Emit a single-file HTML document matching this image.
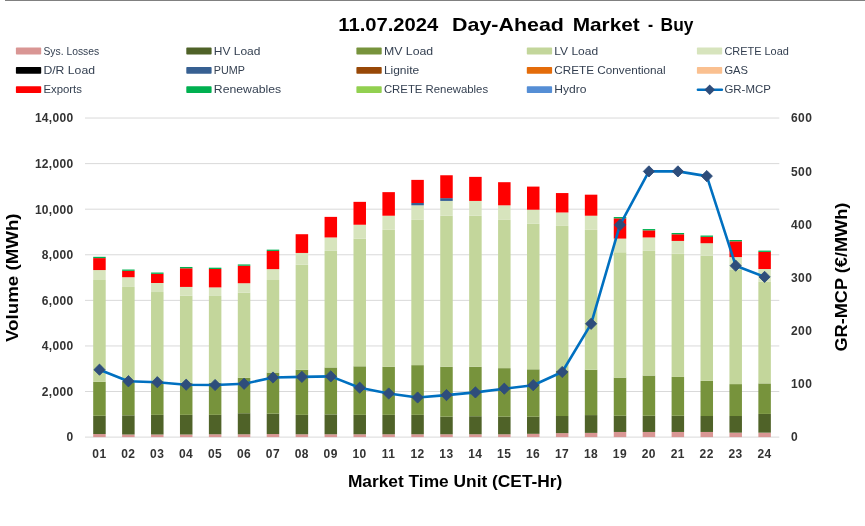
<!DOCTYPE html>
<html lang="en"><head><meta charset="utf-8"><title>Day-Ahead Market - Buy</title>
<style>
html,body{margin:0;padding:0;background:#fff;}
body{width:865px;height:526px;overflow:hidden;}
svg{display:block;font-family:"Liberation Sans",Arial,sans-serif;}
.t{font-weight:bold;fill:#000;}
.ax{font-weight:bold;font-size:12px;fill:#333;}
.lg{font-size:11.3px;fill:#333F50;}
</style></head><body>
<svg width="865" height="526" viewBox="0 0 865 526">
<rect x="0" y="0" width="865" height="526" fill="#fff"/>
<rect x="5" y="0" width="860" height="1" fill="#808080"/>

<text class="t" x="338.3" y="30.7" font-size="18.6px" textLength="100.0" lengthAdjust="spacingAndGlyphs">11.07.2024</text>
<text class="t" x="452.1" y="30.7" font-size="18.6px" textLength="111.8" lengthAdjust="spacingAndGlyphs">Day-Ahead</text>
<text class="t" x="572.7" y="30.7" font-size="18.6px" textLength="67.1" lengthAdjust="spacingAndGlyphs">Market</text>
<text class="t" x="647.9" y="30.7" font-size="18.6px" textLength="5.1" lengthAdjust="spacingAndGlyphs">-</text>
<text class="t" x="660.6" y="30.7" font-size="18.6px" textLength="32.8" lengthAdjust="spacingAndGlyphs">Buy</text>
<rect x="15.9" y="47.6" width="25.3" height="6.9" rx="0.8" fill="#D99694"/>
<text class="lg" x="43.4" y="55.0" textLength="55.8" lengthAdjust="spacingAndGlyphs">Sys. Losses</text>
<rect x="186.3" y="47.6" width="25.3" height="6.9" rx="0.8" fill="#4F6228"/>
<text class="lg" x="213.8" y="55.0" textLength="46.6" lengthAdjust="spacingAndGlyphs">HV Load</text>
<rect x="356.4" y="47.6" width="25.3" height="6.9" rx="0.8" fill="#77933C"/>
<text class="lg" x="383.9" y="55.0" textLength="49.3" lengthAdjust="spacingAndGlyphs">MV Load</text>
<rect x="526.8" y="47.6" width="25.3" height="6.9" rx="0.8" fill="#C3D69B"/>
<text class="lg" x="554.3" y="55.0" textLength="43.8" lengthAdjust="spacingAndGlyphs">LV Load</text>
<rect x="696.9" y="47.6" width="25.3" height="6.9" rx="0.8" fill="#D7E4BD"/>
<text class="lg" x="724.4" y="55.0" textLength="64.5" lengthAdjust="spacingAndGlyphs">CRETE Load</text>
<rect x="15.9" y="66.9" width="25.3" height="6.9" rx="0.8" fill="#000000"/>
<text class="lg" x="43.4" y="73.9" textLength="51.6" lengthAdjust="spacingAndGlyphs">D/R Load</text>
<rect x="186.3" y="66.9" width="25.3" height="6.9" rx="0.8" fill="#376092"/>
<text class="lg" x="213.8" y="73.9" textLength="31.1" lengthAdjust="spacingAndGlyphs">PUMP</text>
<rect x="356.4" y="66.9" width="25.3" height="6.9" rx="0.8" fill="#984807"/>
<text class="lg" x="383.9" y="73.9" textLength="35.3" lengthAdjust="spacingAndGlyphs">Lignite</text>
<rect x="526.8" y="66.9" width="25.3" height="6.9" rx="0.8" fill="#E46C0A"/>
<text class="lg" x="554.3" y="73.9" textLength="111.4" lengthAdjust="spacingAndGlyphs">CRETE Conventional</text>
<rect x="696.9" y="66.9" width="25.3" height="6.9" rx="0.8" fill="#FAC090"/>
<text class="lg" x="724.4" y="73.9" textLength="23.6" lengthAdjust="spacingAndGlyphs">GAS</text>
<rect x="15.9" y="86.2" width="25.3" height="6.9" rx="0.8" fill="#FF0000"/>
<text class="lg" x="43.4" y="92.8" textLength="38.6" lengthAdjust="spacingAndGlyphs">Exports</text>
<rect x="186.3" y="86.2" width="25.3" height="6.9" rx="0.8" fill="#00B050"/>
<text class="lg" x="213.8" y="92.8" textLength="67.4" lengthAdjust="spacingAndGlyphs">Renewables</text>
<rect x="356.4" y="86.2" width="25.3" height="6.9" rx="0.8" fill="#92D050"/>
<text class="lg" x="383.9" y="92.8" textLength="104.2" lengthAdjust="spacingAndGlyphs">CRETE Renewables</text>
<rect x="526.8" y="86.2" width="25.3" height="6.9" rx="0.8" fill="#558ED5"/>
<text class="lg" x="554.3" y="92.8" textLength="32.3" lengthAdjust="spacingAndGlyphs">Hydro</text>
<line x1="697.9" y1="89.8" x2="721.9" y2="89.8" stroke="#0070C0" stroke-width="2.5" stroke-linecap="round"/>
<path d="M704.4 89.8L709.7 84.5L715.0 89.8L709.7 95.1Z" fill="#2E4D7B"/>
<text class="lg" x="724.4" y="92.8" textLength="46.5" lengthAdjust="spacingAndGlyphs">GR-MCP</text>
<line x1="85" y1="437.10" x2="779.3" y2="437.10" stroke="#D9D9D9" stroke-width="1"/>
<line x1="85" y1="391.52" x2="779.3" y2="391.52" stroke="#D9D9D9" stroke-width="1"/>
<line x1="85" y1="345.94" x2="779.3" y2="345.94" stroke="#D9D9D9" stroke-width="1"/>
<line x1="85" y1="300.36" x2="779.3" y2="300.36" stroke="#D9D9D9" stroke-width="1"/>
<line x1="85" y1="254.78" x2="779.3" y2="254.78" stroke="#D9D9D9" stroke-width="1"/>
<line x1="85" y1="209.20" x2="779.3" y2="209.20" stroke="#D9D9D9" stroke-width="1"/>
<line x1="85" y1="163.62" x2="779.3" y2="163.62" stroke="#D9D9D9" stroke-width="1"/>
<line x1="85" y1="118.04" x2="779.3" y2="118.04" stroke="#D9D9D9" stroke-width="1"/>
<rect x="93.20" y="434.05" width="12.5" height="3.05" fill="#D99694"/>
<rect x="93.20" y="415.78" width="12.5" height="18.27" fill="#4F6228"/>
<rect x="93.20" y="381.79" width="12.5" height="33.99" fill="#77933C"/>
<rect x="93.20" y="280.00" width="12.5" height="101.79" fill="#C3D69B"/>
<rect x="93.20" y="270.06" width="12.5" height="9.94" fill="#D7E4BD"/>
<rect x="93.20" y="258.11" width="12.5" height="11.95" fill="#FF0000"/>
<rect x="93.20" y="256.81" width="12.5" height="1.30" fill="#00B050"/>
<rect x="122.12" y="434.51" width="12.5" height="2.59" fill="#D99694"/>
<rect x="122.12" y="415.32" width="12.5" height="19.19" fill="#4F6228"/>
<rect x="122.12" y="381.33" width="12.5" height="33.99" fill="#77933C"/>
<rect x="122.12" y="286.94" width="12.5" height="94.39" fill="#C3D69B"/>
<rect x="122.12" y="277.23" width="12.5" height="9.71" fill="#D7E4BD"/>
<rect x="122.12" y="270.83" width="12.5" height="6.40" fill="#FF0000"/>
<rect x="122.12" y="269.53" width="12.5" height="1.30" fill="#00B050"/>
<rect x="151.04" y="434.51" width="12.5" height="2.59" fill="#D99694"/>
<rect x="151.04" y="414.86" width="12.5" height="19.65" fill="#4F6228"/>
<rect x="151.04" y="381.33" width="12.5" height="33.53" fill="#77933C"/>
<rect x="151.04" y="292.02" width="12.5" height="89.31" fill="#C3D69B"/>
<rect x="151.04" y="283.01" width="12.5" height="9.02" fill="#D7E4BD"/>
<rect x="151.04" y="273.83" width="12.5" height="9.17" fill="#FF0000"/>
<rect x="151.04" y="272.53" width="12.5" height="1.30" fill="#00B050"/>
<rect x="179.96" y="434.51" width="12.5" height="2.59" fill="#D99694"/>
<rect x="179.96" y="414.86" width="12.5" height="19.65" fill="#4F6228"/>
<rect x="179.96" y="382.72" width="12.5" height="32.14" fill="#77933C"/>
<rect x="179.96" y="295.72" width="12.5" height="86.99" fill="#C3D69B"/>
<rect x="179.96" y="286.94" width="12.5" height="8.79" fill="#D7E4BD"/>
<rect x="179.96" y="268.28" width="12.5" height="18.65" fill="#FF0000"/>
<rect x="179.96" y="266.98" width="12.5" height="1.30" fill="#00B050"/>
<rect x="208.88" y="434.28" width="12.5" height="2.82" fill="#D99694"/>
<rect x="208.88" y="414.86" width="12.5" height="19.42" fill="#4F6228"/>
<rect x="208.88" y="382.72" width="12.5" height="32.14" fill="#77933C"/>
<rect x="208.88" y="295.95" width="12.5" height="86.76" fill="#C3D69B"/>
<rect x="208.88" y="287.40" width="12.5" height="8.55" fill="#D7E4BD"/>
<rect x="208.88" y="268.98" width="12.5" height="18.42" fill="#FF0000"/>
<rect x="208.88" y="267.68" width="12.5" height="1.30" fill="#00B050"/>
<rect x="237.80" y="434.28" width="12.5" height="2.82" fill="#D99694"/>
<rect x="237.80" y="413.24" width="12.5" height="21.04" fill="#4F6228"/>
<rect x="237.80" y="377.86" width="12.5" height="35.38" fill="#77933C"/>
<rect x="237.80" y="292.72" width="12.5" height="85.14" fill="#C3D69B"/>
<rect x="237.80" y="283.24" width="12.5" height="9.48" fill="#D7E4BD"/>
<rect x="237.80" y="265.74" width="12.5" height="17.50" fill="#FF0000"/>
<rect x="237.80" y="264.44" width="12.5" height="1.30" fill="#00B050"/>
<rect x="266.72" y="434.05" width="12.5" height="3.05" fill="#D99694"/>
<rect x="266.72" y="413.70" width="12.5" height="20.35" fill="#4F6228"/>
<rect x="266.72" y="372.54" width="12.5" height="41.16" fill="#77933C"/>
<rect x="266.72" y="280.00" width="12.5" height="92.54" fill="#C3D69B"/>
<rect x="266.72" y="269.13" width="12.5" height="10.87" fill="#D7E4BD"/>
<rect x="266.72" y="250.94" width="12.5" height="18.19" fill="#FF0000"/>
<rect x="266.72" y="249.64" width="12.5" height="1.30" fill="#00B050"/>
<rect x="295.64" y="434.28" width="12.5" height="2.82" fill="#D99694"/>
<rect x="295.64" y="414.86" width="12.5" height="19.42" fill="#4F6228"/>
<rect x="295.64" y="369.77" width="12.5" height="45.09" fill="#77933C"/>
<rect x="295.64" y="264.74" width="12.5" height="105.03" fill="#C3D69B"/>
<rect x="295.64" y="252.95" width="12.5" height="11.79" fill="#D7E4BD"/>
<rect x="295.64" y="234.22" width="12.5" height="18.73" fill="#FF0000"/>
<rect x="324.56" y="434.28" width="12.5" height="2.82" fill="#D99694"/>
<rect x="324.56" y="414.39" width="12.5" height="19.88" fill="#4F6228"/>
<rect x="324.56" y="367.46" width="12.5" height="46.94" fill="#77933C"/>
<rect x="324.56" y="250.87" width="12.5" height="116.59" fill="#C3D69B"/>
<rect x="324.56" y="237.46" width="12.5" height="13.41" fill="#D7E4BD"/>
<rect x="324.56" y="216.88" width="12.5" height="20.58" fill="#FF0000"/>
<rect x="353.48" y="434.28" width="12.5" height="2.82" fill="#D99694"/>
<rect x="353.48" y="414.86" width="12.5" height="19.42" fill="#4F6228"/>
<rect x="353.48" y="366.30" width="12.5" height="48.55" fill="#77933C"/>
<rect x="353.48" y="238.61" width="12.5" height="127.69" fill="#C3D69B"/>
<rect x="353.48" y="224.74" width="12.5" height="13.87" fill="#D7E4BD"/>
<rect x="353.48" y="201.85" width="12.5" height="22.89" fill="#FF0000"/>
<rect x="382.40" y="434.28" width="12.5" height="2.82" fill="#D99694"/>
<rect x="382.40" y="414.86" width="12.5" height="19.42" fill="#4F6228"/>
<rect x="382.40" y="366.76" width="12.5" height="48.09" fill="#77933C"/>
<rect x="382.40" y="229.83" width="12.5" height="136.94" fill="#C3D69B"/>
<rect x="382.40" y="215.72" width="12.5" height="14.10" fill="#D7E4BD"/>
<rect x="382.40" y="192.14" width="12.5" height="23.58" fill="#FF0000"/>
<rect x="411.32" y="434.28" width="12.5" height="2.82" fill="#D99694"/>
<rect x="411.32" y="414.86" width="12.5" height="19.42" fill="#4F6228"/>
<rect x="411.32" y="365.14" width="12.5" height="49.71" fill="#77933C"/>
<rect x="411.32" y="219.88" width="12.5" height="145.26" fill="#C3D69B"/>
<rect x="411.32" y="205.32" width="12.5" height="14.57" fill="#D7E4BD"/>
<rect x="411.32" y="203.01" width="12.5" height="2.31" fill="#376092"/>
<rect x="411.32" y="179.88" width="12.5" height="23.12" fill="#FF0000"/>
<rect x="440.24" y="434.28" width="12.5" height="2.82" fill="#D99694"/>
<rect x="440.24" y="416.71" width="12.5" height="17.57" fill="#4F6228"/>
<rect x="440.24" y="366.76" width="12.5" height="49.94" fill="#77933C"/>
<rect x="440.24" y="215.72" width="12.5" height="151.04" fill="#C3D69B"/>
<rect x="440.24" y="200.92" width="12.5" height="14.80" fill="#D7E4BD"/>
<rect x="440.24" y="198.15" width="12.5" height="2.77" fill="#376092"/>
<rect x="440.24" y="175.26" width="12.5" height="22.89" fill="#FF0000"/>
<rect x="469.16" y="434.28" width="12.5" height="2.82" fill="#D99694"/>
<rect x="469.16" y="416.24" width="12.5" height="18.03" fill="#4F6228"/>
<rect x="469.16" y="366.76" width="12.5" height="49.48" fill="#77933C"/>
<rect x="469.16" y="215.72" width="12.5" height="151.04" fill="#C3D69B"/>
<rect x="469.16" y="200.92" width="12.5" height="14.80" fill="#D7E4BD"/>
<rect x="469.16" y="176.88" width="12.5" height="24.05" fill="#FF0000"/>
<rect x="498.08" y="434.28" width="12.5" height="2.82" fill="#D99694"/>
<rect x="498.08" y="416.71" width="12.5" height="17.57" fill="#4F6228"/>
<rect x="498.08" y="368.15" width="12.5" height="48.55" fill="#77933C"/>
<rect x="498.08" y="219.88" width="12.5" height="148.27" fill="#C3D69B"/>
<rect x="498.08" y="205.32" width="12.5" height="14.57" fill="#D7E4BD"/>
<rect x="498.08" y="182.20" width="12.5" height="23.12" fill="#FF0000"/>
<rect x="527.00" y="433.82" width="12.5" height="3.28" fill="#D99694"/>
<rect x="527.00" y="416.71" width="12.5" height="17.11" fill="#4F6228"/>
<rect x="527.00" y="369.31" width="12.5" height="47.40" fill="#77933C"/>
<rect x="527.00" y="223.82" width="12.5" height="145.49" fill="#C3D69B"/>
<rect x="527.00" y="209.71" width="12.5" height="14.10" fill="#D7E4BD"/>
<rect x="527.00" y="186.59" width="12.5" height="23.12" fill="#FF0000"/>
<rect x="555.92" y="433.12" width="12.5" height="3.98" fill="#D99694"/>
<rect x="555.92" y="416.01" width="12.5" height="17.11" fill="#4F6228"/>
<rect x="555.92" y="370.46" width="12.5" height="45.55" fill="#77933C"/>
<rect x="555.92" y="225.90" width="12.5" height="144.57" fill="#C3D69B"/>
<rect x="555.92" y="212.49" width="12.5" height="13.41" fill="#D7E4BD"/>
<rect x="555.92" y="193.06" width="12.5" height="19.42" fill="#FF0000"/>
<rect x="584.84" y="432.89" width="12.5" height="4.21" fill="#D99694"/>
<rect x="584.84" y="415.09" width="12.5" height="17.80" fill="#4F6228"/>
<rect x="584.84" y="369.77" width="12.5" height="45.32" fill="#77933C"/>
<rect x="584.84" y="229.83" width="12.5" height="139.94" fill="#C3D69B"/>
<rect x="584.84" y="215.72" width="12.5" height="14.10" fill="#D7E4BD"/>
<rect x="584.84" y="194.68" width="12.5" height="21.04" fill="#FF0000"/>
<rect x="613.76" y="431.97" width="12.5" height="5.13" fill="#D99694"/>
<rect x="613.76" y="415.78" width="12.5" height="16.18" fill="#4F6228"/>
<rect x="613.76" y="377.63" width="12.5" height="38.15" fill="#77933C"/>
<rect x="613.76" y="252.25" width="12.5" height="125.38" fill="#C3D69B"/>
<rect x="613.76" y="238.61" width="12.5" height="13.64" fill="#D7E4BD"/>
<rect x="613.76" y="218.34" width="12.5" height="20.27" fill="#FF0000"/>
<rect x="613.76" y="217.04" width="12.5" height="1.30" fill="#00B050"/>
<rect x="642.68" y="431.97" width="12.5" height="5.13" fill="#D99694"/>
<rect x="642.68" y="415.78" width="12.5" height="16.18" fill="#4F6228"/>
<rect x="642.68" y="375.55" width="12.5" height="40.23" fill="#77933C"/>
<rect x="642.68" y="250.87" width="12.5" height="124.68" fill="#C3D69B"/>
<rect x="642.68" y="237.46" width="12.5" height="13.41" fill="#D7E4BD"/>
<rect x="642.68" y="230.36" width="12.5" height="7.09" fill="#FF0000"/>
<rect x="642.68" y="229.06" width="12.5" height="1.30" fill="#00B050"/>
<rect x="671.60" y="431.97" width="12.5" height="5.13" fill="#D99694"/>
<rect x="671.60" y="415.78" width="12.5" height="16.18" fill="#4F6228"/>
<rect x="671.60" y="376.94" width="12.5" height="38.84" fill="#77933C"/>
<rect x="671.60" y="253.64" width="12.5" height="123.29" fill="#C3D69B"/>
<rect x="671.60" y="240.92" width="12.5" height="12.72" fill="#D7E4BD"/>
<rect x="671.60" y="234.29" width="12.5" height="6.63" fill="#FF0000"/>
<rect x="671.60" y="232.99" width="12.5" height="1.30" fill="#00B050"/>
<rect x="700.52" y="431.97" width="12.5" height="5.13" fill="#D99694"/>
<rect x="700.52" y="416.01" width="12.5" height="15.95" fill="#4F6228"/>
<rect x="700.52" y="380.87" width="12.5" height="35.14" fill="#77933C"/>
<rect x="700.52" y="255.72" width="12.5" height="125.14" fill="#C3D69B"/>
<rect x="700.52" y="243.24" width="12.5" height="12.49" fill="#D7E4BD"/>
<rect x="700.52" y="236.84" width="12.5" height="6.40" fill="#FF0000"/>
<rect x="700.52" y="235.54" width="12.5" height="1.30" fill="#00B050"/>
<rect x="729.44" y="432.66" width="12.5" height="4.44" fill="#D99694"/>
<rect x="729.44" y="416.01" width="12.5" height="16.65" fill="#4F6228"/>
<rect x="729.44" y="384.10" width="12.5" height="31.91" fill="#77933C"/>
<rect x="729.44" y="270.00" width="12.5" height="114.10" fill="#C3D69B"/>
<rect x="729.44" y="257.10" width="12.5" height="12.90" fill="#D7E4BD"/>
<rect x="729.44" y="241.30" width="12.5" height="15.80" fill="#FF0000"/>
<rect x="729.44" y="240.00" width="12.5" height="1.30" fill="#00B050"/>
<rect x="758.36" y="432.66" width="12.5" height="4.44" fill="#D99694"/>
<rect x="758.36" y="413.93" width="12.5" height="18.73" fill="#4F6228"/>
<rect x="758.36" y="383.41" width="12.5" height="30.52" fill="#77933C"/>
<rect x="758.36" y="281.50" width="12.5" height="101.91" fill="#C3D69B"/>
<rect x="758.36" y="269.00" width="12.5" height="12.50" fill="#D7E4BD"/>
<rect x="758.36" y="251.90" width="12.5" height="17.10" fill="#FF0000"/>
<rect x="758.36" y="250.60" width="12.5" height="1.30" fill="#00B050"/>
<polyline fill="none" stroke="#0070C0" stroke-width="2.6" stroke-linejoin="round" stroke-linecap="round" points="99.5,369.7 128.4,381.2 157.3,382.2 186.2,384.7 215.1,385.0 244.1,383.8 273.0,377.5 301.9,376.9 330.8,376.4 359.7,387.7 388.7,393.5 417.6,397.5 446.5,395.1 475.4,392.4 504.3,388.7 533.2,385.2 562.2,372.0 591.1,323.8 620.0,224.9 648.9,171.4 677.9,171.4 706.8,176.1 735.7,265.7 764.6,276.9"/>
<path d="M93.9 369.7L99.5 364.1L105.0 369.7L99.5 375.3Z" fill="#2E4D7B" stroke="#2E4D7B" stroke-width="0.9" stroke-linejoin="round"/>
<path d="M122.8 381.2L128.4 375.6L134.0 381.2L128.4 386.9Z" fill="#2E4D7B" stroke="#2E4D7B" stroke-width="0.9" stroke-linejoin="round"/>
<path d="M151.7 382.2L157.3 376.6L162.9 382.2L157.3 387.8Z" fill="#2E4D7B" stroke="#2E4D7B" stroke-width="0.9" stroke-linejoin="round"/>
<path d="M180.6 384.7L186.2 379.1L191.8 384.7L186.2 390.3Z" fill="#2E4D7B" stroke="#2E4D7B" stroke-width="0.9" stroke-linejoin="round"/>
<path d="M209.5 385.0L215.1 379.4L220.7 385.0L215.1 390.6Z" fill="#2E4D7B" stroke="#2E4D7B" stroke-width="0.9" stroke-linejoin="round"/>
<path d="M238.5 383.8L244.1 378.1L249.7 383.8L244.1 389.4Z" fill="#2E4D7B" stroke="#2E4D7B" stroke-width="0.9" stroke-linejoin="round"/>
<path d="M267.4 377.5L273.0 371.9L278.6 377.5L273.0 383.1Z" fill="#2E4D7B" stroke="#2E4D7B" stroke-width="0.9" stroke-linejoin="round"/>
<path d="M296.3 376.9L301.9 371.2L307.5 376.9L301.9 382.5Z" fill="#2E4D7B" stroke="#2E4D7B" stroke-width="0.9" stroke-linejoin="round"/>
<path d="M325.2 376.4L330.8 370.8L336.4 376.4L330.8 382.0Z" fill="#2E4D7B" stroke="#2E4D7B" stroke-width="0.9" stroke-linejoin="round"/>
<path d="M354.1 387.7L359.7 382.1L365.3 387.7L359.7 393.3Z" fill="#2E4D7B" stroke="#2E4D7B" stroke-width="0.9" stroke-linejoin="round"/>
<path d="M383.1 393.5L388.7 387.9L394.3 393.5L388.7 399.1Z" fill="#2E4D7B" stroke="#2E4D7B" stroke-width="0.9" stroke-linejoin="round"/>
<path d="M412.0 397.5L417.6 391.9L423.2 397.5L417.6 403.1Z" fill="#2E4D7B" stroke="#2E4D7B" stroke-width="0.9" stroke-linejoin="round"/>
<path d="M440.9 395.1L446.5 389.4L452.1 395.1L446.5 400.7Z" fill="#2E4D7B" stroke="#2E4D7B" stroke-width="0.9" stroke-linejoin="round"/>
<path d="M469.8 392.4L475.4 386.8L481.0 392.4L475.4 398.0Z" fill="#2E4D7B" stroke="#2E4D7B" stroke-width="0.9" stroke-linejoin="round"/>
<path d="M498.7 388.7L504.3 383.1L509.9 388.7L504.3 394.3Z" fill="#2E4D7B" stroke="#2E4D7B" stroke-width="0.9" stroke-linejoin="round"/>
<path d="M527.6 385.2L533.2 379.6L538.9 385.2L533.2 390.8Z" fill="#2E4D7B" stroke="#2E4D7B" stroke-width="0.9" stroke-linejoin="round"/>
<path d="M556.6 372.0L562.2 366.4L567.8 372.0L562.2 377.6Z" fill="#2E4D7B" stroke="#2E4D7B" stroke-width="0.9" stroke-linejoin="round"/>
<path d="M585.5 323.8L591.1 318.2L596.7 323.8L591.1 329.4Z" fill="#2E4D7B" stroke="#2E4D7B" stroke-width="0.9" stroke-linejoin="round"/>
<path d="M614.4 224.9L620.0 219.3L625.6 224.9L620.0 230.5Z" fill="#2E4D7B" stroke="#2E4D7B" stroke-width="0.9" stroke-linejoin="round"/>
<path d="M643.3 171.4L648.9 165.8L654.5 171.4L648.9 177.0Z" fill="#2E4D7B" stroke="#2E4D7B" stroke-width="0.9" stroke-linejoin="round"/>
<path d="M672.3 171.4L677.9 165.8L683.5 171.4L677.9 177.0Z" fill="#2E4D7B" stroke="#2E4D7B" stroke-width="0.9" stroke-linejoin="round"/>
<path d="M701.2 176.1L706.8 170.5L712.4 176.1L706.8 181.7Z" fill="#2E4D7B" stroke="#2E4D7B" stroke-width="0.9" stroke-linejoin="round"/>
<path d="M730.1 265.7L735.7 260.1L741.3 265.7L735.7 271.3Z" fill="#2E4D7B" stroke="#2E4D7B" stroke-width="0.9" stroke-linejoin="round"/>
<path d="M759.0 276.9L764.6 271.3L770.2 276.9L764.6 282.5Z" fill="#2E4D7B" stroke="#2E4D7B" stroke-width="0.9" stroke-linejoin="round"/>
<text class="ax" x="73.4" y="441.4" text-anchor="end" letter-spacing="0.3">0</text>
<text class="ax" x="73.4" y="395.8" text-anchor="end" letter-spacing="0.3">2,000</text>
<text class="ax" x="73.4" y="350.2" text-anchor="end" letter-spacing="0.3">4,000</text>
<text class="ax" x="73.4" y="304.7" text-anchor="end" letter-spacing="0.3">6,000</text>
<text class="ax" x="73.4" y="259.1" text-anchor="end" letter-spacing="0.3">8,000</text>
<text class="ax" x="73.4" y="213.5" text-anchor="end" letter-spacing="0.3">10,000</text>
<text class="ax" x="73.4" y="167.9" text-anchor="end" letter-spacing="0.3">12,000</text>
<text class="ax" x="73.4" y="122.3" text-anchor="end" letter-spacing="0.3">14,000</text>
<text class="ax" x="791" y="441.4" letter-spacing="0.4">0</text>
<text class="ax" x="791" y="388.2" letter-spacing="0.4">100</text>
<text class="ax" x="791" y="335.0" letter-spacing="0.4">200</text>
<text class="ax" x="791" y="281.9" letter-spacing="0.4">300</text>
<text class="ax" x="791" y="228.7" letter-spacing="0.4">400</text>
<text class="ax" x="791" y="175.5" letter-spacing="0.4">500</text>
<text class="ax" x="791" y="122.3" letter-spacing="0.4">600</text>
<text class="ax" x="99.4" y="457.8" text-anchor="middle" letter-spacing="0.4">01</text>
<text class="ax" x="128.3" y="457.8" text-anchor="middle" letter-spacing="0.4">02</text>
<text class="ax" x="157.2" y="457.8" text-anchor="middle" letter-spacing="0.4">03</text>
<text class="ax" x="186.1" y="457.8" text-anchor="middle" letter-spacing="0.4">04</text>
<text class="ax" x="215.0" y="457.8" text-anchor="middle" letter-spacing="0.4">05</text>
<text class="ax" x="244.0" y="457.8" text-anchor="middle" letter-spacing="0.4">06</text>
<text class="ax" x="272.9" y="457.8" text-anchor="middle" letter-spacing="0.4">07</text>
<text class="ax" x="301.8" y="457.8" text-anchor="middle" letter-spacing="0.4">08</text>
<text class="ax" x="330.7" y="457.8" text-anchor="middle" letter-spacing="0.4">09</text>
<text class="ax" x="359.6" y="457.8" text-anchor="middle" letter-spacing="0.4">10</text>
<text class="ax" x="388.6" y="457.8" text-anchor="middle" letter-spacing="0.4">11</text>
<text class="ax" x="417.5" y="457.8" text-anchor="middle" letter-spacing="0.4">12</text>
<text class="ax" x="446.4" y="457.8" text-anchor="middle" letter-spacing="0.4">13</text>
<text class="ax" x="475.3" y="457.8" text-anchor="middle" letter-spacing="0.4">14</text>
<text class="ax" x="504.2" y="457.8" text-anchor="middle" letter-spacing="0.4">15</text>
<text class="ax" x="533.1" y="457.8" text-anchor="middle" letter-spacing="0.4">16</text>
<text class="ax" x="562.1" y="457.8" text-anchor="middle" letter-spacing="0.4">17</text>
<text class="ax" x="591.0" y="457.8" text-anchor="middle" letter-spacing="0.4">18</text>
<text class="ax" x="619.9" y="457.8" text-anchor="middle" letter-spacing="0.4">19</text>
<text class="ax" x="648.8" y="457.8" text-anchor="middle" letter-spacing="0.4">20</text>
<text class="ax" x="677.8" y="457.8" text-anchor="middle" letter-spacing="0.4">21</text>
<text class="ax" x="706.7" y="457.8" text-anchor="middle" letter-spacing="0.4">22</text>
<text class="ax" x="735.6" y="457.8" text-anchor="middle" letter-spacing="0.4">23</text>
<text class="ax" x="764.5" y="457.8" text-anchor="middle" letter-spacing="0.4">24</text>
<text class="t" x="347.9" y="486.9" font-size="16.2px" textLength="214.5" lengthAdjust="spacingAndGlyphs">Market Time Unit (CET-Hr)</text>
<text class="t" font-size="16.2px" transform="translate(18.3 342) rotate(-90)" textLength="128.6" lengthAdjust="spacingAndGlyphs">Volume (MWh)</text>
<text class="t" font-size="16.2px" transform="translate(846.8 351.6) rotate(-90)" textLength="149" lengthAdjust="spacingAndGlyphs">GR-MCP (€/MWh)</text>
</svg></body></html>
